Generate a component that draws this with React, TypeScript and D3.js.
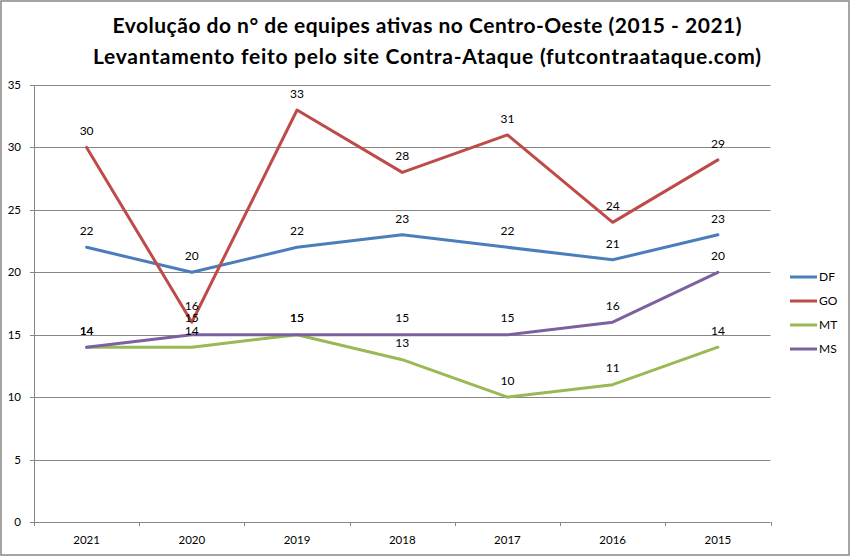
import React from "react";
import * as d3 from "d3";

const categories = ["2021", "2020", "2019", "2018", "2017", "2016", "2015"];
const seriesNames = ["DF", "GO", "MT", "MS"];
const dfValues = [22, 20, 22, 23, 22, 21, 23];
const goValues = [30, 16, 33, 28, 31, 24, 29];
const mtValues = [14, 14, 15, 13, 10, 11, 14];
const msValues = [14, 15, 15, 15, 15, 16, 20];
const yTicks = [0, 5, 10, 15, 20, 25, 30, 35];
const colors = ["#4a7ebb", "#be4b48", "#98b954", "#7d60a0"];
const titleLines = [
  "Evolução do n° de equipes ativas no Centro-Oeste (2015 - 2021)",
  "Levantamento feito pelo site Contra-Ataque (futcontraataque.com)",
];
const titleWidths = [629, 668];

const W = 851;
const H = 557;
const plot = { left: 34, right: 770.5, top: 85, bottom: 522 };
const FONT = "Lato, 'Open Sans', sans-serif";

export default function App() {
  const data = [dfValues, goValues, mtValues, msValues];
  const x = d3
    .scaleBand<string>()
    .domain(categories)
    .range([plot.left, plot.right])
    .padding(0);
  const y = d3.scaleLinear().domain([0, 35]).range([plot.bottom, plot.top]);
  const cx = (c: string) => (x(c) as number) + x.bandwidth() / 2;
  const line = d3
    .line<number>()
    .x((_, i) => cx(categories[i]))
    .y((v) => y(v));

  const tickXs = categories.map((c) => x(c) as number).concat([plot.right]);

  return (
    <div style={{ position: "absolute", left: 0, top: 0 }}>
      <svg width={W} height={H} style={{ display: "block", background: "#fff" }}>
        <rect x={1} y={1} width={848} height={554} fill="#fff" stroke="#878787" strokeWidth={1.5} />
        {titleLines.map((t, i) => (
          <text
            key={i}
            x={427}
            y={33 + i * 31}
            textAnchor="middle"
            fontFamily={FONT}
            fontWeight="bold"
            fontSize={21}
            textLength={titleWidths[i]}
            lengthAdjust="spacing"
            fill="#000"
          >
            {t}
          </text>
        ))}
        {/* gridlines */}
        {yTicks.map((t) => (
          <line
            key={t}
            x1={plot.left - 4}
            x2={plot.right}
            y1={Math.round(y(t)) + 0.5}
            y2={Math.round(y(t)) + 0.5}
            stroke="#868686"
            strokeWidth={1}
          />
        ))}
        {yTicks.map((t) => (
          <text
            key={"l" + t}
            x={21}
            y={y(t)}
            dy="0.35em"
            textAnchor="end"
            fontFamily={FONT}
            fontSize={11.5}
            fill="#000"
          >
            {t}
          </text>
        ))}
        {/* y axis */}
        <line
          x1={plot.left + 0.5}
          x2={plot.left + 0.5}
          y1={plot.top}
          y2={plot.bottom + 0.5}
          stroke="#868686"
        />
        {/* x ticks */}
        {tickXs.map((tx, i) => (
          <line
            key={"xt" + i}
            x1={Math.round(tx) + 0.5}
            x2={Math.round(tx) + 0.5}
            y1={plot.bottom}
            y2={plot.bottom + 4}
            stroke="#868686"
          />
        ))}
        {categories.map((c) => (
          <text
            key={"xl" + c}
            x={cx(c)}
            y={540}
            dy="0.35em"
            textAnchor="middle"
            fontFamily={FONT}
            fontSize={11.5}
            fill="#000"
          >
            {c}
          </text>
        ))}
        {/* lines */}
        {data.map((vals, si) => (
          <path
            key={"p" + si}
            d={line(vals) as string}
            fill="none"
            stroke={colors[si]}
            strokeWidth={3}
            strokeLinejoin="round"
            strokeLinecap="round"
          />
        ))}
        {/* data labels */}
        {data.map((vals, si) =>
          vals.map((v, i) => (
            <text
              key={"d" + si + "-" + i}
              x={cx(categories[i])}
              y={y(v) - 16.5}
              dy="0.35em"
              textAnchor="middle"
              fontFamily={FONT}
              fontSize={12}
              fill="#000"
            >
              {v}
            </text>
          ))
        )}
        {/* legend */}
        {seriesNames.map((n, i) => {
          const ly = 277 + i * 24;
          return (
            <g key={"lg" + n}>
              <line x1={790} x2={817} y1={ly} y2={ly} stroke={colors[i]} strokeWidth={3} />
              <text x={819} y={ly} dy="0.35em" fontFamily={FONT} fontSize={12} fill="#000">
                {n}
              </text>
            </g>
          );
        })}
      </svg>
    </div>
  );
}
